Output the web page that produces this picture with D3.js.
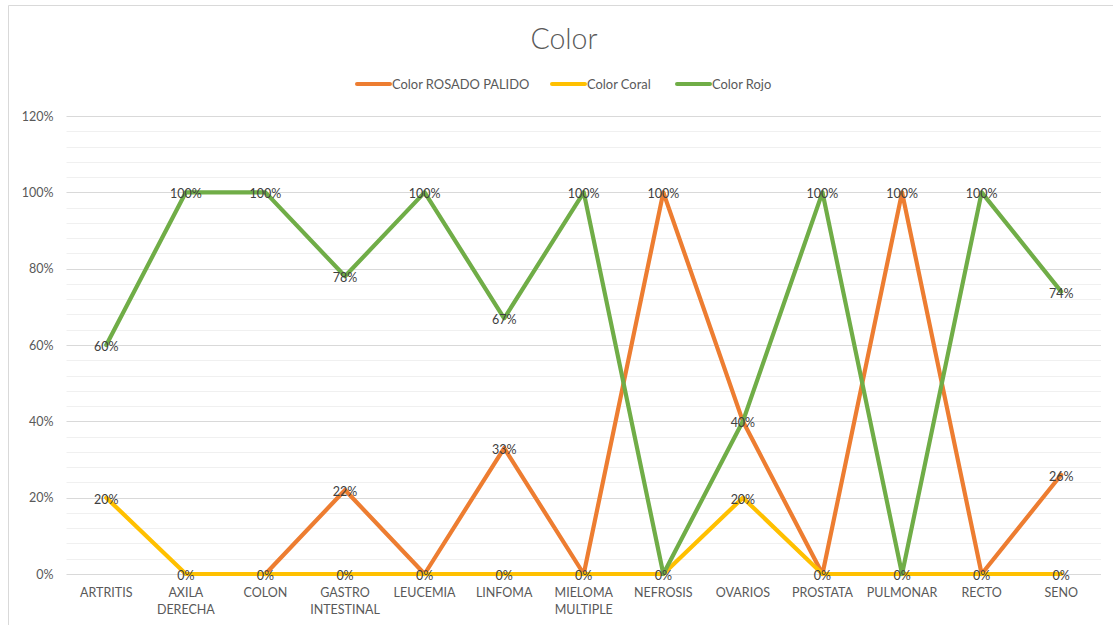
<!DOCTYPE html>
<html>
<head>
<meta charset="utf-8">
<script src="https://cdn.jsdelivr.net/npm/d3@7"></script>
<style>
  html, body { margin: 0; padding: 0; background: #fff; }
  svg { display: block; font-family: Lato, "Open Sans", sans-serif; }
</style>
</head>
<body>
<svg id="chart" width="1113" height="625"></svg>
<script>
// Categories (diagnosis) and the share of each colour per category, in %
const categories = ["ARTRITIS", "AXILA\nDERECHA", "COLON", "GASTRO\nINTESTINAL", "LEUCEMIA", "LINFOMA",
  "MIELOMA\nMULTIPLE", "NEFROSIS", "OVARIOS", "PROSTATA", "PULMONAR", "RECTO", "SENO"];
const rosadoPalido = [null, null, 0, 22, 0, 33, 0, 100, 40, 0, 100, 0, 26];
const coral =        [20, 0, 0, 0, 0, 0, 0, 0, 20, 0, 0, 0, 0];
const rojo =         [60, 100, 100, 78, 100, 67, 100, 0, 40, 100, 0, 100, 74];
const seriesNames = ["Color ROSADO PALIDO", "Color Coral", "Color Rojo"];
const yTicks = [0, 20, 40, 60, 80, 100, 120];

const seriesColors = ["#ED7D31", "#FFC000", "#70AD47"];
const series = [rosadoPalido, coral, rojo].map((values, i) => ({
  name: seriesNames[i], color: seriesColors[i], values
}));

const svg = d3.select("#chart");
const W = 1113, H = 625;
const plot = { left: 66.5, right: 1101, top: 116, bottom: 574 };

// Outer chart frame (top and left edges visible in the window)
svg.append("path")
  .attr("d", `M8.5,${H} L8.5,5.5 L${W},5.5`)
  .attr("fill", "none").attr("stroke", "#d9d9d9").attr("stroke-width", 1);

const x = d3.scaleBand().domain(d3.range(categories.length))
  .range([plot.left, plot.right]);
const y = d3.scaleLinear().domain([0, 120]).range([plot.bottom, plot.top]);

// Minor gridlines every 4 %
const minor = d3.range(0, 121, 4).filter(v => v % 20 !== 0);
svg.append("g").selectAll("line").data(minor).join("line")
  .attr("x1", plot.left).attr("x2", plot.right)
  .attr("y1", d => Math.round(y(d)) + 0.5).attr("y2", d => Math.round(y(d)) + 0.5)
  .attr("stroke", "#f0f0f0").attr("stroke-width", 1);

// Major gridlines and y-axis labels
const yAxis = d3.axisLeft(y).tickValues(yTicks).tickSize(0).tickPadding(13)
  .tickFormat(d => d + "%");
const yg = svg.append("g").attr("transform", `translate(${plot.left},0)`).call(yAxis);
yg.select(".domain").remove();
yg.selectAll("text").attr("fill", "#595959").style("font-size", "12.5px")
  .style("font-family", "Lato, sans-serif");
svg.append("g").selectAll("line").data(yTicks).join("line")
  .attr("x1", plot.left).attr("x2", plot.right)
  .attr("y1", d => Math.round(y(d)) + 0.5).attr("y2", d => Math.round(y(d)) + 0.5)
  .attr("stroke", "#d9d9d9").attr("stroke-width", 1);

// Category labels (two lines where needed)
const xg = svg.append("g");
categories.forEach((c, i) => {
  const t = xg.append("text")
    .attr("x", x(i) + x.bandwidth() / 2).attr("y", 597)
    .attr("text-anchor", "middle").attr("fill", "#595959")
    .style("font-size", "12.5px");
  c.split("\n").forEach((line, k) => {
    t.append("tspan").attr("x", x(i) + x.bandwidth() / 2)
      .attr("dy", k === 0 ? 0 : 17).text(line);
  });
});

// Series lines
const cx = i => x(i) + x.bandwidth() / 2;
const line = d3.line().defined(d => d != null)
  .x((d, i) => cx(i)).y(d => y(d));
svg.append("g").selectAll("path").data(series).join("path")
  .attr("d", s => line(s.values))
  .attr("fill", "none").attr("stroke", s => s.color)
  .attr("stroke-width", 4.2).attr("stroke-linejoin", "round").attr("stroke-linecap", "round");

// Data labels centred on each point; coinciding labels are drawn once
const seen = new Set();
const labels = [];
series.forEach(s => s.values.forEach((v, i) => {
  if (v == null) return;
  const key = i + ":" + v;
  if (seen.has(key)) return;
  seen.add(key);
  labels.push({ i, v });
}));
svg.append("g").selectAll("text").data(labels).join("text")
  .attr("x", d => cx(d.i)).attr("y", d => y(d.v) + 6)
  .attr("text-anchor", "middle").attr("fill", "#404040")
  .style("font-size", "12.5px")
  .text(d => d.v + "%");

// Title
svg.append("text").attr("x", 564).attr("y", 49)
  .attr("text-anchor", "middle").attr("fill", "#595959")
  .style("font-size", "28.5px").style("font-weight", 300).text("Color");

// Legend
const legendItems = [
  { x: 357, s: series[0] },
  { x: 552, s: series[1] },
  { x: 677, s: series[2] }
];
const lg = svg.append("g");
legendItems.forEach(it => {
  lg.append("line").attr("x1", it.x).attr("x2", it.x + 33)
    .attr("y1", 84).attr("y2", 84)
    .attr("stroke", it.s.color).attr("stroke-width", 4).attr("stroke-linecap", "round");
  lg.append("text").attr("x", it.x + 35).attr("y", 88.5)
    .attr("fill", "#595959").style("font-size", "12.9px").text(it.s.name);
});
</script>
</body>
</html>
